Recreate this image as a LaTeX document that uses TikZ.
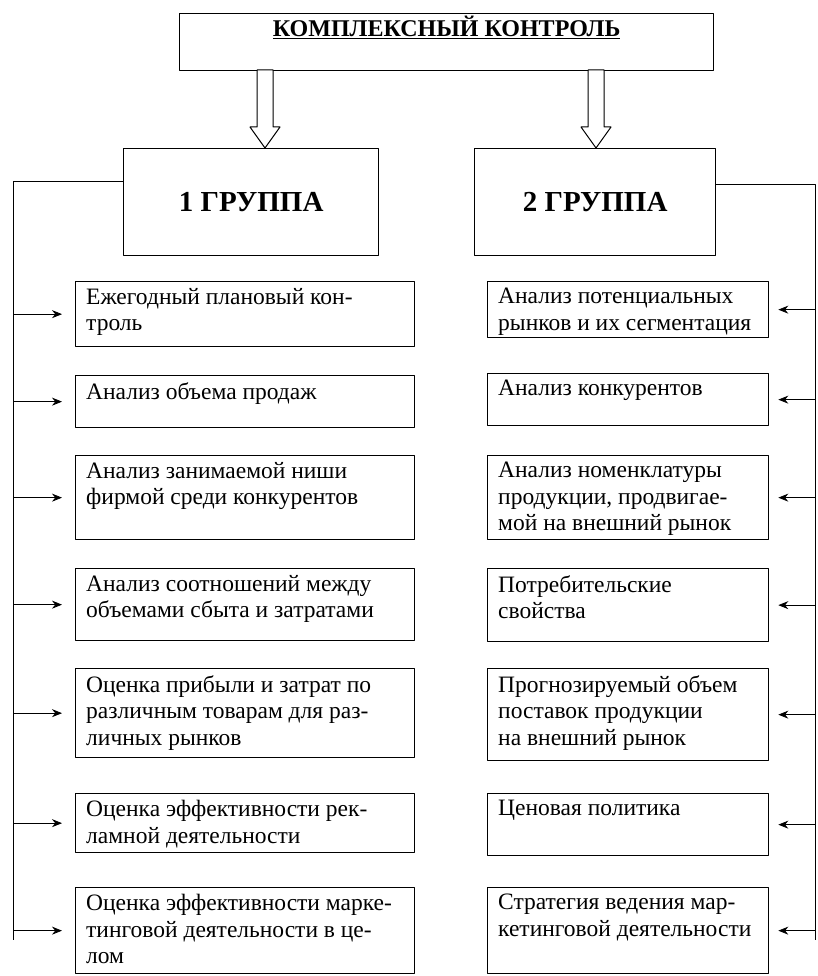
\documentclass[tikz,border=0pt]{standalone}
\usepackage{fontspec}
\setmainfont{Liberation Serif}
\usetikzlibrary{arrows.meta}
\begin{document}
\begin{tikzpicture}[x=1pt, y=-1pt, line join=round, >={Stealth[length=10pt,width=8pt]},
  box/.style={draw, line width=1.3pt, anchor=north west, inner sep=0pt},
  itemtext/.style={anchor=north west, align=left, inner xsep=11pt, inner ysep=7pt, font=\fontsize{23.5}{26.5}\selectfont},
  group/.style={box, minimum height=107, font=\fontsize{29}{32}\selectfont\bfseries, text depth=-12pt},
  link/.style={line width=0.8pt},
  hollow/.style={draw, line width=1pt, fill=white}]
\useasboundingbox (0,0) rectangle (817,976);
% top
\node[box, minimum width=534, minimum height=57, label={[anchor=north, inner sep=3pt, font=\fontsize{24}{26}\selectfont\bfseries]north:\underline{КОМПЛЕКСНЫЙ КОНТРОЛЬ}}] (top) at (179,13) {};
\node[group, minimum width=255] (g1) at (123,148) {1 ГРУППА};
\node[group, minimum width=241] (g2) at (474,148) {2 ГРУППА};
\coordinate (t1) at (265,148);
\coordinate (t2) at (596,148);
\foreach \t in {t1,t2}
  \draw[hollow] (\t) -- ++(-15,-21) -- ++(7,0) -- ++(0,-57) -- ++(16,0) -- ++(0,57) -- ++(7,0) -- cycle;
% left column
\foreach \n/\y/\h/\txt in {1/281/65/{Ежегодный плановый кон-\\троль},
  2/375/52/{Анализ объема продаж},
  3/455/84/{Анализ занимаемой ниши\\фирмой среди конкурентов},
  4/568/72/{Анализ соотношений между\\объемами сбыта и затратами},
  5/668/89/{Оценка прибыли и затрат по\\различным товарам для раз-\\личных рынков},
  6/793/59/{Оценка эффективности рек-\\ламной деятельности},
  7/887/86/{Оценка эффективности марке-\\тинговой деятельности в це-\\лом}}
  \node[box, minimum width=339, minimum height=\h, label={[itemtext]north west:\txt}] (l\n) at (75,\y) {};
% right column
\foreach \n/\y/\h/\txt in {1/281/56/{Анализ потенциальных\\рынков и их сегментация},
  2/373/52/{Анализ конкурентов},
  3/455/84/{Анализ номенклатуры\\продукции, продвигае-\\мой на внешний рынок},
  4/568/73/{Потребительские\\свойства},
  5/668/92/{Прогнозируемый объем\\поставок продукции\\на внешний рынок},
  6/793/62/{Ценовая политика},
  7/887/86/{Стратегия ведения мар-\\кетинговой деятельности}}
  \node[box, minimum width=281, minimum height=\h, label={[itemtext]north west:\txt}] (r\n) at (487,\y) {};
% links
\coordinate (lb) at (13,940);
\coordinate (rb) at (815,940);
\draw[link] ([yshift=21pt]g1.west) -| (lb);
\draw[link] ([yshift=18pt]g2.east) -| (rb);
\foreach \n in {1,...,7}{
  \draw[link, ->, shorten >=13pt] (l\n.west -| lb) -- (l\n.west);
  \draw[link, ->, shorten >=9pt] (r\n.east -| rb) -- (r\n.east);
}
\end{tikzpicture}
\end{document}
